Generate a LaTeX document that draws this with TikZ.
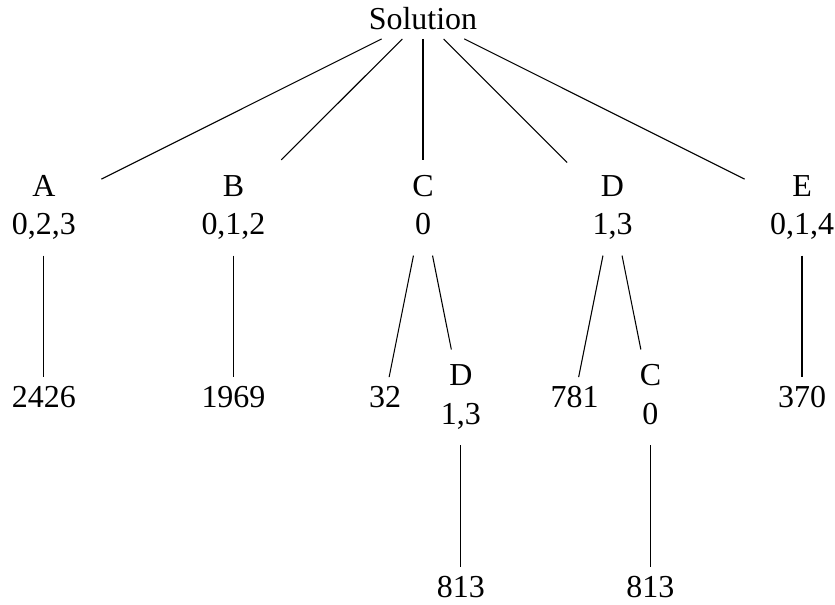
\documentclass[tikz,border=0pt]{standalone}
\usepackage{fontspec}
\setmainfont{Liberation Serif}

\newcommand{\twoline}[2]{\begin{tabular}{c}#1\\#2\end{tabular}}

\begin{document}
\begin{tikzpicture}[font=\fontsize{12}{14.4}\selectfont]
\useasboundingbox (-0.58,0.241) rectangle (10.435,-7.727);

\node (sol) at (5,0) {Solution};

\node (a) at (0,-2.5) {\twoline{A}{0,2,3}};
\node (b) at (2.5,-2.5) {\twoline{B}{0,1,2}};
\node (c) at (5,-2.5) {\twoline{C}{0}};
\node (d) at (7.5,-2.5) {\twoline{D}{1,3}};
\node (e) at (10,-2.5) {\twoline{E}{0,1,4}};

\node (a1) at (0,-5) {2426};
\node (b1) at (2.5,-5) {1969};
\node (c1) at (4.5,-5) {32};
\node (cd) at (5.5,-5) {\twoline{D}{1,3}};
\node (d1) at (7,-5) {781};
\node (dc) at (8,-5) {\twoline{C}{0}};
\node (e1) at (10,-5) {370};

\node (cd1) at (5.5,-7.5) {813};
\node (dc1) at (8,-7.5) {813};

\draw (sol) -- (a);
\draw (sol) -- (b);
\draw (sol) -- (c);
\draw (sol) -- (d);
\draw (sol) -- (e);

\draw (a) -- (a1);
\draw (b) -- (b1);
\draw (c) -- (c1);
\draw (c) -- (cd);
\draw (d) -- (d1);
\draw (d) -- (dc);
\draw (e) -- (e1);

\draw (cd) -- (cd1);
\draw (dc) -- (dc1);

\end{tikzpicture}
\end{document}
